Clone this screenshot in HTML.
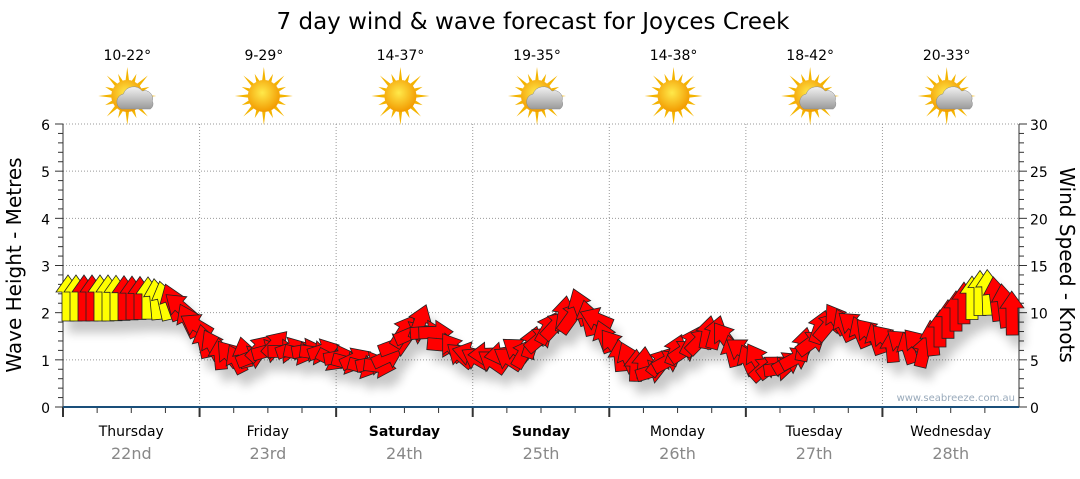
<!DOCTYPE html>
<html><head><meta charset="utf-8"><style>
body{margin:0;background:#fff;width:1080px;height:475px;overflow:hidden;font-family:"DejaVu Sans",sans-serif}
</style></head><body>
<svg id="s" width="1080" height="475" xmlns="http://www.w3.org/2000/svg" font-family="DejaVu Sans, Liberation Sans, sans-serif">
<defs>
<radialGradient id="sun" cx="45%" cy="40%" r="60%"><stop offset="0" stop-color="#ffe94a"/><stop offset="1" stop-color="#f29a00"/></radialGradient>
<linearGradient id="cl" x1="0" y1="0" x2="0" y2="1"><stop offset="0" stop-color="#f2f2f2"/><stop offset="1" stop-color="#9a9a9a"/></linearGradient>
<filter id="sh" x="-20%" y="-20%" width="140%" height="160%"><feGaussianBlur stdDeviation="5"/></filter>
</defs>
<text x="533" y="29" font-size="23" text-anchor="middle" fill="#000">7 day wind &amp; wave forecast for Joyces Creek</text>
<g id="grid"></g>
<g id="icons"></g>
<g id="shadow" filter="url(#sh)" opacity="0.22"></g>
<g id="arrows"></g>
<text transform="translate(21,265) rotate(-90)" font-size="20" text-anchor="middle">Wave Height - Metres</text>
<text transform="translate(1060,265) rotate(90)" font-size="20" text-anchor="middle">Wind Speed - Knots</text>
<text x="1015" y="401" font-size="10" fill="#9ab" text-anchor="end">www.seabreeze.com.au</text>
</svg>
<script>
const NS="http://www.w3.org/2000/svg";
function el(p,t,a,txt){const e=document.createElementNS(NS,t);for(const k in a)e.setAttribute(k,a[k]);if(txt!==undefined)e.textContent=txt;p.appendChild(e);return e;}
const g=document.getElementById('grid');
const L=63,R=1019,T=124,B=407;
for(let i=1;i<=6;i++){const y=B-i*(B-T)/6;el(g,'line',{x1:L,x2:R,y1:y,y2:y,stroke:'#999','stroke-dasharray':'1,2'});}
for(let i=0;i<=6;i++){const y=B-i*(B-T)/6;el(g,'text',{x:50,y:y+6,'font-size':14,'text-anchor':'end'},i);}
for(let i=0;i<=6;i++){const y=B-i*(B-T)/6;el(g,'text',{x:1030,y:y+6,'font-size':14},i*5);}
for(let i=0;i<=30;i++){const y=B-i*(B-T)/30;el(g,'line',{x1:L-(i%5?5:8),x2:L,y1:y,y2:y,stroke:'#333'});el(g,'line',{x1:R,x2:R+(i%5?5:8),y1:y,y2:y,stroke:'#333'});}
el(g,'line',{x1:L,x2:L,y1:T,y2:B,stroke:'#333'});
el(g,'line',{x1:R,x2:R,y1:T,y2:B,stroke:'#333'});
const dw=(R-L)/7;
const days=[['Thursday','22nd'],['Friday','23rd'],['Saturday','24th'],['Sunday','25th'],['Monday','26th'],['Tuesday','27th'],['Wednesday','28th']];
const temps=['10-22°','9-29°','14-37°','19-35°','14-38°','18-42°','20-33°'];
const cloud=[1,0,0,1,0,1,1];
for(let d=0;d<7;d++){
 const x0=L+d*dw,cx=x0+dw/2;
 if(d>0)el(g,'line',{x1:x0,x2:x0,y1:T,y2:B,stroke:'#999','stroke-dasharray':'1,2'});
 for(let k=0;k<4;k++){const x=x0+k*dw/4;el(g,'line',{x1:x,x2:x,y1:B,y2:B+(k==0?10:6),stroke:'#333','stroke-width':k==0?2:1});}
 const bold=(d==2||d==3);
 el(g,'text',{x:cx,y:436,'font-size':14,'text-anchor':'middle','font-weight':bold?'bold':'normal'},days[d][0]);
 el(g,'text',{x:cx,y:459,'font-size':16,'text-anchor':'middle',fill:'#888'},days[d][1]);
 el(g,'text',{x:cx-4,y:60,'font-size':14,'text-anchor':'middle'},temps[d]);
 const ic=document.getElementById('icons');const sx=cx-4,sy=96;
 for(let r=0;r<16;r++){const a=r*Math.PI/8,l=(r%2?24:29);el(ic,'polygon',{points:`${sx+Math.cos(a-0.12)*15},${sy+Math.sin(a-0.12)*15} ${sx+Math.cos(a)*l},${sy+Math.sin(a)*l} ${sx+Math.cos(a+0.12)*15},${sy+Math.sin(a+0.12)*15}`,fill:'#f4b400'});}
 el(ic,'circle',{cx:sx,cy:sy,r:16,fill:'url(#sun)'});
 if(cloud[d]){el(ic,'path',{d:`M${sx-6},${sy+13} a8,8 0 0 1 2,-15 a11,11 0 0 1 19,-3 a8,8 0 0 1 10,10 a6,6 0 0 1 -2,8 z`,fill:'url(#cl)',stroke:'#888','stroke-width':0.5});}
}
el(g,'line',{x1:L,x2:R,y1:B,y2:B,stroke:'#1a4f7a','stroke-width':2});
const kp=[[66,298,0,46],[110,298,0,46],[150,298,0,42],[172,302,-20,38],[185,315,-35,36],[200,335,-30,34],[215,348,-20,32],[235,356,-50,30],[255,352,60,32],[275,348,70,32],[300,350,80,32],[320,350,80,32],[340,360,100,32],[365,365,90,32],[385,362,70,32],[400,335,45,36],[420,325,40,36],[440,340,135,34],[455,350,-70,32],[480,356,-80,32],[505,358,-80,32],[525,350,20,32],[545,330,30,34],[565,315,20,36],[580,310,0,38],[595,322,-40,34],[615,348,-30,32],[635,362,-20,32],[655,368,60,32],[675,355,50,32],[695,340,30,32],[715,328,0,34],[730,345,-40,32],[750,360,-30,32],[770,368,60,32],[790,362,60,32],[805,345,20,34],[825,325,45,34],[845,322,-45,34],[865,330,-45,32],[885,340,-30,32],[905,346,-30,32],[925,348,0,34],[945,322,0,38],[965,302,0,42],[985,290,0,46],[1000,302,-10,44],[1013,314,0,44]];
function interp(x){if(x<=kp[0][0])return kp[0].slice(1);for(let i=0;i<kp.length-1;i++){const a=kp[i],b=kp[i+1];if(x>=a[0]&&x<=b[0]){const t=(x-a[0])/(b[0]-a[0]);return [a[1]+(b[1]-a[1])*t,a[2]+(b[2]-a[2])*t,a[3]+(b[3]-a[3])*t];}}return kp[kp.length-1].slice(1);}
const ag=document.getElementById('arrows'),sg=document.getElementById('shadow');
function shape(len){const h=len/2;return `0,${-h} 12,${-h+17} 6,${-h+17} 6,${h} -6,${h} -6,${-h+17} -12,${-h+17}`;}
const yellow=x=>(x<78)||(x>=100&&x<=122)||(x>=145&&x<=168)||(x>=970&&x<=990);
const xs=[];for(let x=68;x<=1013;x+=8)xs.push(x);
const jit=[0,18,-12,25,-20,8,-28,15,-6,22];
const data=xs.map((x,i)=>{const [y,a,l]=interp(x);const j=(x>175&&x<940)?jit[i%jit.length]:0;return [x,y+(j/6),a+j,l];});
for(const [x,y,a,l] of data)el(sg,'polygon',{points:shape(l),transform:`translate(${x+6},${y+12}) rotate(${a})`,fill:'#000'});
for(const [x,y,a,l] of data)el(ag,'polygon',{points:shape(l),transform:`translate(${x},${y}) rotate(${a})`,fill:yellow(x)?'#ffff00':'#ff0000',stroke:'#222','stroke-width':0.8});
</script>
</body></html>
